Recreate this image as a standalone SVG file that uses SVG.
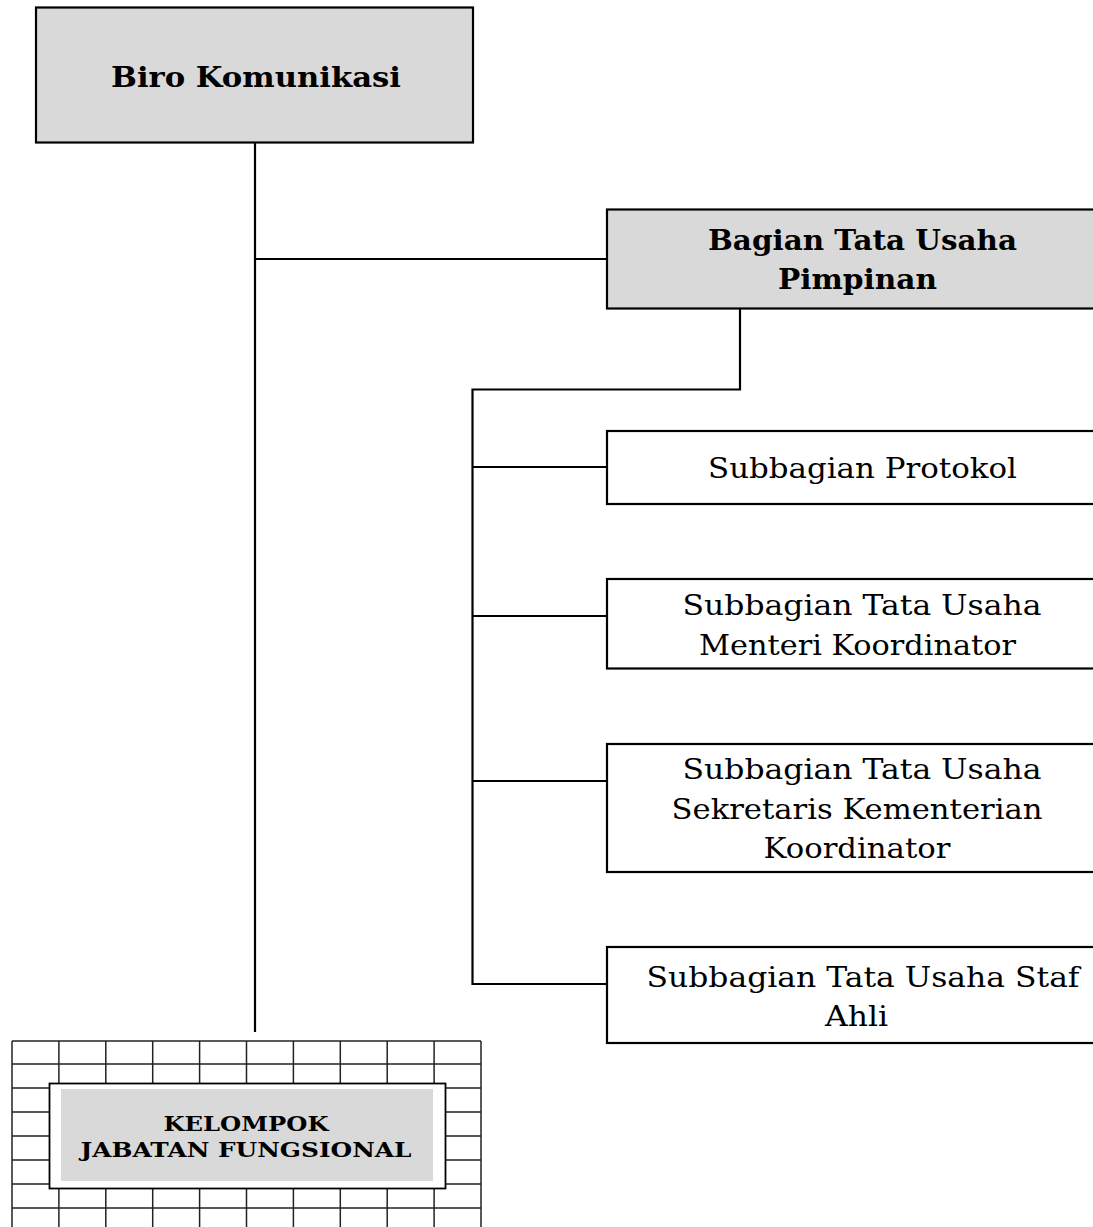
<svg xmlns="http://www.w3.org/2000/svg" width="1093" height="1227" viewBox="0 0 1093 1227">
<style>
.box{stroke:#000;stroke-width:2.2;}
.gray{fill:#d9d9d9;}
.white{fill:#fff;}
.conn{stroke:#000;stroke-width:2.2;fill:none;}
.grid{stroke:#222;stroke-width:1.5;}
.tb{font-family:"DejaVu Serif","Liberation Serif",serif;font-weight:bold;font-size:27px;fill:#000;}
.tr{font-family:"DejaVu Serif","Liberation Serif",serif;font-size:28.5px;fill:#000;}
.tk{font-family:"DejaVu Serif","Liberation Serif",serif;font-weight:bold;font-size:21px;fill:#000;}
</style>
<rect width="1093" height="1227" fill="#fff"/>
<g id="connectors">
<path class="conn" d="M255 143 V1032"/>
<path class="conn" d="M255 259 H607"/>
<path class="conn" d="M740 308 V389.5 H472.5 V984 H607"/>
<path class="conn" d="M472.5 467 H607"/>
<path class="conn" d="M472.5 616 H607"/>
<path class="conn" d="M472.5 781 H607"/>
</g>
<g id="biro">
<rect class="box gray" x="36" y="7.5" width="437" height="135"/>
<text class="tb" x="256" y="87" text-anchor="middle" textLength="290" lengthAdjust="spacingAndGlyphs">Biro Komunikasi</text>
</g>
<g id="bagian">
<rect class="box gray" x="607" y="209.5" width="600" height="99"/>
<text class="tb" x="862.5" y="250" text-anchor="middle" textLength="309" lengthAdjust="spacingAndGlyphs">Bagian Tata Usaha</text>
<text class="tb" x="857.5" y="289" text-anchor="middle" textLength="159" lengthAdjust="spacingAndGlyphs">Pimpinan</text>
</g>
<g id="protokol">
<rect class="box white" x="607" y="431" width="600" height="73"/>
<text class="tr" x="862.5" y="478" text-anchor="middle" textLength="309" lengthAdjust="spacingAndGlyphs">Subbagian Protokol</text>
</g>
<g id="menteri">
<rect class="box white" x="607" y="579" width="600" height="89.5"/>
<text class="tr" x="862" y="615" text-anchor="middle" textLength="359" lengthAdjust="spacingAndGlyphs">Subbagian Tata Usaha</text>
<text class="tr" x="857.5" y="655" text-anchor="middle" textLength="317" lengthAdjust="spacingAndGlyphs">Menteri Koordinator</text>
</g>
<g id="sekretaris">
<rect class="box white" x="607" y="744" width="600" height="128"/>
<text class="tr" x="862" y="779" text-anchor="middle" textLength="359" lengthAdjust="spacingAndGlyphs">Subbagian Tata Usaha</text>
<text class="tr" x="857" y="818.5" text-anchor="middle" textLength="371" lengthAdjust="spacingAndGlyphs">Sekretaris Kementerian</text>
<text class="tr" x="857" y="858" text-anchor="middle" textLength="187" lengthAdjust="spacingAndGlyphs">Koordinator</text>
</g>
<g id="stafahli">
<rect class="box white" x="607" y="947" width="600" height="96"/>
<text class="tr" x="863" y="987" text-anchor="middle" textLength="433" lengthAdjust="spacingAndGlyphs">Subbagian Tata Usaha Staf</text>
<text class="tr" x="856.5" y="1026" text-anchor="middle" textLength="63" lengthAdjust="spacingAndGlyphs">Ahli</text>
</g>
<g id="kelompok">
<g class="grid">
<line x1="12" y1="1041" x2="481" y2="1041"/>
<line x1="12" y1="1064" x2="481" y2="1064"/>
<line x1="12" y1="1088" x2="481" y2="1088"/>
<line x1="12" y1="1112" x2="481" y2="1112"/>
<line x1="12" y1="1136" x2="481" y2="1136"/>
<line x1="12" y1="1160" x2="481" y2="1160"/>
<line x1="12" y1="1184" x2="481" y2="1184"/>
<line x1="12" y1="1208" x2="481" y2="1208"/>
<line x1="12" y1="1041" x2="12" y2="1227"/>
<line x1="58.9" y1="1041" x2="58.9" y2="1227"/>
<line x1="105.8" y1="1041" x2="105.8" y2="1227"/>
<line x1="152.7" y1="1041" x2="152.7" y2="1227"/>
<line x1="199.6" y1="1041" x2="199.6" y2="1227"/>
<line x1="246.5" y1="1041" x2="246.5" y2="1227"/>
<line x1="293.4" y1="1041" x2="293.4" y2="1227"/>
<line x1="340.3" y1="1041" x2="340.3" y2="1227"/>
<line x1="387.2" y1="1041" x2="387.2" y2="1227"/>
<line x1="434.1" y1="1041" x2="434.1" y2="1227"/>
<line x1="481" y1="1041" x2="481" y2="1227"/>
</g>
<rect x="49.5" y="1083.5" width="396" height="105" fill="#fff" stroke="#000" stroke-width="1.8"/>
<rect x="61" y="1089" width="372" height="92" fill="#d9d9d9"/>
<text class="tk" x="246" y="1131" text-anchor="middle" textLength="165" lengthAdjust="spacingAndGlyphs">KELOMPOK</text>
<text class="tk" x="246" y="1157" text-anchor="middle" textLength="331" lengthAdjust="spacingAndGlyphs">JABATAN FUNGSIONAL</text>
</g>
</svg>
